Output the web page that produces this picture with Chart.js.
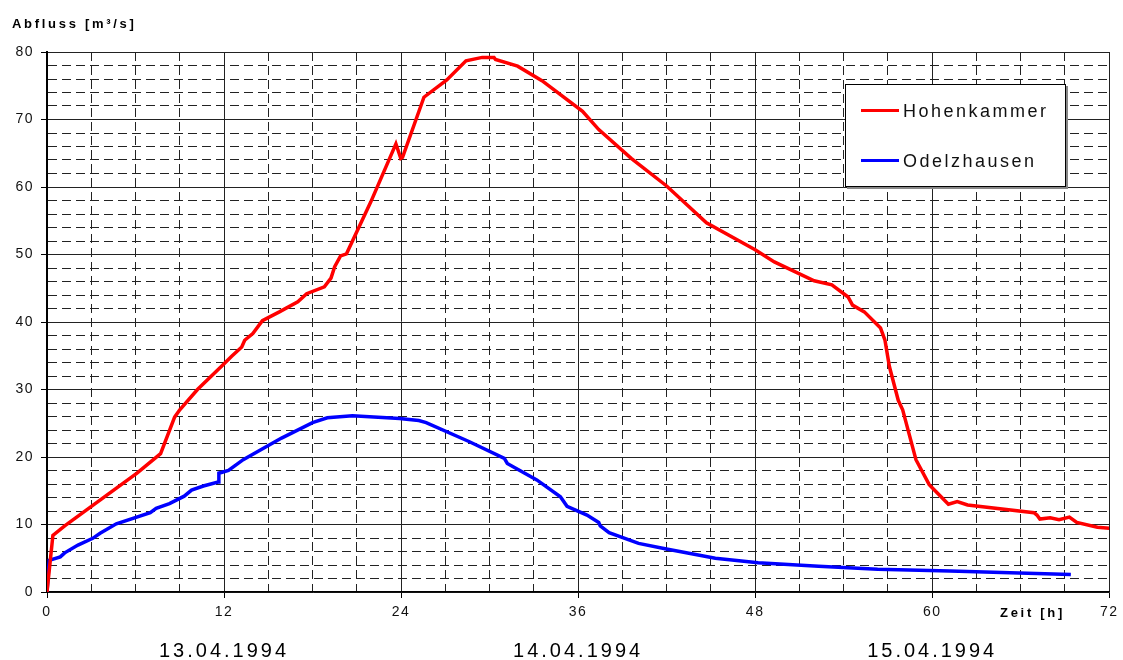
<!DOCTYPE html>
<html>
<head>
<meta charset="utf-8">
<title>Abfluss</title>
<script src="https://cdn.jsdelivr.net/npm/chart.js@4"></script>
<style>
  body { margin: 0; background: #fff; }
  #wrap { width: 1123px; height: 660px; }
</style>
</head>
<body>
<div id="wrap"><canvas id="abflussChart" width="1123" height="660"></canvas></div>
<script>
// Daten (Zeit in Stunden, Abfluss in m³/s)
const hohenHours = [0, 0.4, 1.2, 6.1, 7.7, 8.65, 9.0, 10.2, 11.9, 12.5, 13.2, 13.4, 13.95, 14.6, 15.75,
    17.0, 17.6, 18.8, 19.25, 19.5, 19.9, 20.3, 21.95, 23.65, 23.98, 24.1, 25.55, 27.1, 28.4, 29.5,
    30.3, 30.4, 31.9, 33.55, 36.3, 37.4, 39.6, 42.0, 44.7, 48.0, 49.3, 52.0, 53.2, 54.3, 54.6,
    55.4, 56.5, 56.8, 57.1, 57.7, 58.0, 58.9, 59.8, 60.6, 61.1, 61.7, 62.4, 66.9, 67.1, 67.3,
    68.0, 68.6, 69.3, 69.8, 71.2, 72];
const hohenFlow = [0, 8.4, 9.8, 17.6, 20.5, 25.9, 27.0, 30.0, 33.6, 34.9, 36.3, 37.3, 38.3, 40.2, 41.5,
    43.0, 44.2, 45.2, 46.5, 48.2, 49.8, 50.1, 57.8, 66.4, 64.25, 64.4, 73.3, 75.85, 78.7, 79.2,
    79.2, 78.9, 77.9, 75.75, 71.2, 68.5, 64.25, 60.15, 54.7, 50.7, 48.9, 46.1, 45.5, 43.7, 42.5,
    41.5, 39.1, 37.3, 33.4, 28.4, 27.0, 19.6, 15.9, 14.1, 13.0, 13.4, 12.9, 11.75, 11.4, 10.8,
    11.0, 10.7, 11.1, 10.3, 9.6, 9.45];

const odelHours = [0, 0.15, 0.9, 1.2, 2.1, 3.1, 3.6, 4.7, 7.0, 7.4, 8.3, 9.3, 9.8, 10.6, 11.6,
    11.65, 12.3, 13.3, 15.9, 18.0, 19.0, 20.7, 23.9, 25.2, 25.7, 28.6, 31.0, 31.2, 33.2, 34.8,
    35.25, 36.6, 37.4, 37.5, 38.1, 40.1, 41.9, 45.3, 48.2, 52.3, 56.3, 61.2, 69.4];
const odelFlow = [0, 4.7, 5.2, 5.8, 6.95, 7.95, 8.7, 10.1, 11.75, 12.4, 13.1, 14.2, 15.1, 15.7, 16.3,
    17.6, 18.0, 19.6, 22.8, 25.1, 25.8, 26.1, 25.7, 25.4, 25.1, 22.3, 19.8, 19.05, 16.6, 14.1,
    12.7, 11.4, 10.3, 9.8, 8.8, 7.2, 6.4, 5.0, 4.35, 3.8, 3.36, 3.1, 2.6];

const seriesNames = ['Hohenkammer', 'Odelzhausen'];
const seriesColors = ['#ff0000', '#0000ff'];
const dayLabels = ['13.04.1994', '14.04.1994', '15.04.1994'];
const dayCenters = [12, 36, 60];

const FONT = "'Liberation Sans', Arial, sans-serif";

function toPoints(xs, ys) {
    return xs.map((x, i) => ({ x: x, y: ys[i] }));
}

// Beschriftungen, Legende und Datumszeile
const overlay = {
    id: 'overlay',
    beforeDraw(chart) {
        chart.ctx.letterSpacing = '1.5px';
    },
    afterDraw(chart) {
        const ctx = chart.ctx;
        const xs = chart.scales.x;
        ctx.save();
        ctx.fillStyle = '#000';

        // Achsentitel
        ctx.font = 'bold 13px ' + FONT;
        ctx.letterSpacing = '2.7px';
        ctx.textAlign = 'left';
        ctx.textBaseline = 'alphabetic';
        ctx.fillText('Abfluss [m³/s]', 12, 28);
        ctx.fillText('Zeit [h]', 1000, 617);

        // Datum
        ctx.font = '20px ' + FONT;
        ctx.letterSpacing = '3px';
        ctx.textAlign = 'center';
        dayLabels.forEach((d, i) => {
            ctx.fillText(d, xs.getPixelForValue(dayCenters[i]), 657);
        });

        // Legende
        ctx.fillStyle = '#888';
        ctx.fillRect(847, 86, 221, 103);
        ctx.fillStyle = '#fff';
        ctx.fillRect(845, 84, 220, 102);
        ctx.strokeStyle = '#000';
        ctx.lineWidth = 1;
        ctx.strokeRect(845.5, 84.5, 220, 102);

        ctx.font = '18px ' + FONT;
        ctx.letterSpacing = '2.5px';
        ctx.textAlign = 'left';
        const rows = [110.5, 160.5];
        seriesNames.forEach((name, i) => {
            ctx.strokeStyle = seriesColors[i];
            ctx.lineWidth = 3;
            ctx.beginPath();
            ctx.moveTo(861, rows[i]);
            ctx.lineTo(899, rows[i]);
            ctx.stroke();
            ctx.fillStyle = '#111';
            ctx.fillText(name, 903, rows[i] + 6.5);
        });
        ctx.restore();
    }
};

const canvas = document.getElementById('abflussChart');

new Chart(canvas, {
    type: 'line',
    data: {
        datasets: [{
            label: seriesNames[0],
            data: toPoints(hohenHours, hohenFlow),
            borderColor: seriesColors[0],
            borderWidth: 3.5,
            pointRadius: 0,
            tension: 0
        }, {
            label: seriesNames[1],
            data: toPoints(odelHours, odelFlow),
            borderColor: seriesColors[1],
            borderWidth: 3.5,
            pointRadius: 0,
            tension: 0
        }]
    },
    options: {
        responsive: false,
        animation: false,
        layout: { padding: { left: 0, top: 52, right: 11, bottom: 0 } },
        plugins: {
            legend: { display: false },
            tooltip: { enabled: false }
        },
        scales: {
            x: {
                type: 'linear',
                min: 0,
                max: 72,
                afterFit: s => { s.height = 68; },
                ticks: {
                    stepSize: 3,
                    autoSkip: false,
                    maxRotation: 0,
                    padding: 6,
                    color: '#111',
                    font: { family: FONT, size: 14 },
                    callback: v => (v % 12 === 0 ? v : '')
                },
                grid: {
                    color: '#222',
                    lineWidth: 1,
                    tickLength: 6,
                    tickColor: c => (c.tick && c.tick.value % 12 === 0 ? '#000' : 'rgba(0,0,0,0)')
                },
                border: {
                    color: '#000',
                    width: 1.5,
                    dash: c => (!c.tick || c.tick.value % 12 === 0 ? [] : [9, 5])
                }
            },
            y: {
                min: 0,
                max: 80,
                afterFit: s => { s.width = 47; },
                ticks: {
                    stepSize: 2,
                    autoSkip: false,
                    padding: 7,
                    color: '#111',
                    font: { family: FONT, size: 14 },
                    callback: v => (v % 10 === 0 ? v : '')
                },
                grid: {
                    color: '#222',
                    lineWidth: 1,
                    tickLength: 6,
                    tickColor: c => (c.tick && c.tick.value % 10 === 0 ? '#000' : 'rgba(0,0,0,0)')
                },
                border: {
                    color: '#000',
                    width: 2,
                    dash: c => (!c.tick || c.tick.value % 10 === 0 ? [] : [9, 5])
                }
            }
        }
    },
    plugins: [overlay]
});
</script>
</body>
</html>
